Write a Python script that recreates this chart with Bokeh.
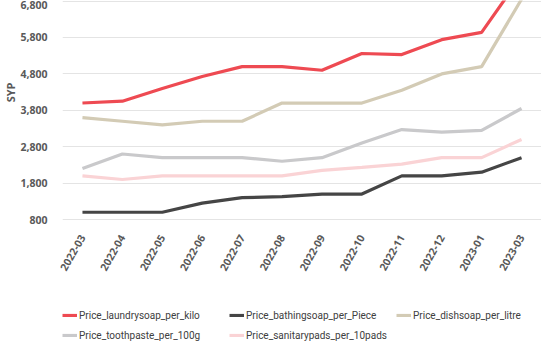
import math
from bokeh.plotting import figure
from bokeh.layouts import column
from bokeh.models import Legend, LegendItem, NumeralTickFormatter, FixedTicker, Range1d, Title
from bokeh.embed import file_html
from bokeh.resources import INLINE

months = ["2022-03", "2022-04", "2022-05", "2022-06", "2022-07", "2022-08",
          "2022-09", "2022-10", "2022-11", "2022-12", "2023-01", "2023-03"]
laundrysoap = [4000, 4050, 4400, 4730, 5000, 5000, 4900, 5360, 5330, 5740, 5940, 7500]
bathingsoap = [1000, 1000, 1000, 1250, 1400, 1430, 1500, 1500, 2000, 2000, 2100, 2500]
dishsoap = [3600, 3500, 3400, 3500, 3500, 4000, 4000, 4000, 4350, 4800, 5000, 6850]
toothpaste = [2200, 2600, 2500, 2500, 2500, 2400, 2500, 2900, 3270, 3200, 3250, 3850]
sanitarypads = [2000, 1900, 2000, 2000, 2000, 2000, 2150, 2230, 2320, 2500, 2500, 3000]
y_ticks = [800, 1800, 2800, 3800, 4800, 5800, 6800]

series = [
    ("Price_laundrysoap_per_kilo", laundrysoap, "#EE4A52"),
    ("Price_bathingsoap_per_Piece", bathingsoap, "#454545"),
    ("Price_dishsoap_per_litre", dishsoap, "#D3CBB5"),
    ("Price_toothpaste_per_100g", toothpaste, "#C9C9CB"),
    ("Price_sanitarypads_per_10pads", sanitarypads, "#FAD3D5"),
]

p = figure(frame_width=479, frame_height=223, x_range=months, y_range=(691, 6816),
           output_backend="svg", toolbar_location=None,
           min_border_left=62, min_border_right=0, min_border_top=0, min_border_bottom=0)
p.outline_line_color = None
p.background_fill_color = "white"
p.border_fill_color = "white"

for name, vals, col in series:
    p.line(months, vals, line_color=col, line_width=3.2)

p.xgrid.grid_line_color = None
p.ygrid.grid_line_color = "#E4E4E4"
p.ygrid.grid_line_width = 1

p.yaxis.ticker = FixedTicker(ticks=y_ticks)
p.yaxis.formatter = NumeralTickFormatter(format="0,0")
p.yaxis.axis_line_color = None
p.yaxis.major_tick_line_color = None
p.yaxis.minor_tick_line_color = None
p.yaxis.major_label_text_font = "Open Sans"
p.yaxis.major_label_text_font_size = "10.5px"
p.yaxis.major_label_text_font_style = "bold"
p.yaxis.major_label_text_color = "#595959"
p.yaxis.major_label_standoff = 9

p.add_layout(Title(text="SYP", align="right", offset=82, standoff=0,
                   text_font="Open Sans", text_font_size="11px",
                   text_font_style="bold", text_color="#595959"), "left")

p.xaxis.axis_line_color = None
p.xaxis.major_tick_line_color = None
p.xaxis.minor_tick_line_color = None
p.xaxis.major_label_orientation = math.pi / 3
p.xaxis.major_label_text_font = "Open Sans"
p.xaxis.major_label_text_font_size = "10.5px"
p.xaxis.major_label_text_font_style = "bold"
p.xaxis.major_label_text_color = "#595959"
p.xaxis.major_label_standoff = 6

# legend panel: same series drawn outside its visible y range, so only the legend shows
lg = figure(width=541, height=72, x_range=months, y_range=Range1d(0, 1),
            output_backend="svg", toolbar_location=None,
            x_axis_location=None, y_axis_location=None,
            min_border_left=0, min_border_right=0, min_border_top=0, min_border_bottom=0)
lg.outline_line_color = None
lg.grid.visible = False
renderers = {}
for name, vals, col in series:
    renderers[name] = lg.line(months, vals, line_color=col, line_width=3.2)

legend_style = dict(orientation="horizontal",
                    glyph_width=15, glyph_height=4, label_standoff=2, label_width=150,
                    spacing=0, padding=0, margin=0, border_line_color=None,
                    background_fill_alpha=0,
                    label_text_font="Roboto", label_text_font_size="10px",
                    label_text_color="#404040", label_height=18)

row1 = ["Price_laundrysoap_per_kilo", "Price_bathingsoap_per_Piece", "Price_dishsoap_per_litre"]
row2 = ["Price_toothpaste_per_100g", "Price_sanitarypads_per_10pads"]

leg1 = Legend(items=[LegendItem(label=n, renderers=[renderers[n]]) for n in row1],
              location=(0, 24), **legend_style)
leg2 = Legend(items=[LegendItem(label=n, renderers=[renderers[n]]) for n in row2],
              location=(0, 4), **legend_style)
lg.add_layout(leg1, "center")
lg.add_layout(leg2, "center")

layout = column(p, lg, spacing=0)
open("out.html", "w").write(file_html(layout, INLINE))
